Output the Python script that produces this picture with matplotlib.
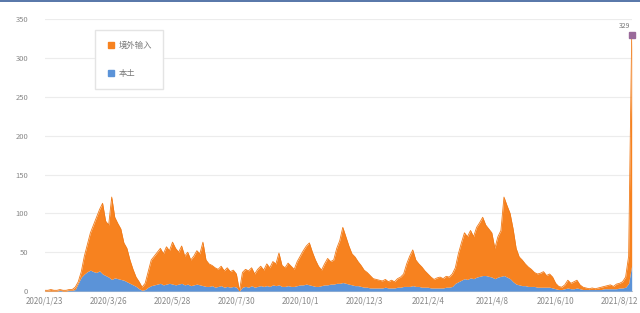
import matplotlib.pyplot as plt
import numpy as np
from matplotlib.lines import Line2D

plt.rcParams['font.family'] = ['Noto Sans CJK SC', 'DejaVu Sans']

# total daily cases (stacked top) and local cases (bottom layer)
total = [1, 1, 2, 1, 1, 2, 1, 1, 2, 2,
         5, 12, 25, 45, 60, 75, 85, 95, 105, 113,
         90, 85, 121, 95, 87, 80, 62, 55, 40, 28,
         18, 12, 5, 10, 25, 40, 45, 50, 55, 48,
         57, 52, 63, 55, 50, 58, 45, 50, 40, 45,
         52, 48, 63, 40, 35, 33, 30, 28, 32, 26,
         30, 25, 27, 22, 0, 24, 28, 26, 30, 22,
         28, 32, 27, 35, 30, 38, 35, 49, 33, 30,
         36, 32, 28, 38, 45, 52, 58, 62, 50, 40,
         32, 27, 35, 42, 38, 40, 55, 65, 82, 70,
         58, 48, 44, 38, 33, 27, 24, 20, 16, 15,
         14, 13, 15, 12, 14, 12, 16, 18, 22, 35,
         45, 53, 40, 35, 31, 26, 22, 18, 15, 17,
         18, 16, 19, 18, 22, 30, 48, 62, 75, 70,
         78, 70, 82, 88, 95, 85, 80, 75, 55, 70,
         78, 121, 110, 100, 80, 55, 44, 40, 35, 31,
         28, 24, 22, 23, 25, 20, 22, 18, 10, 6,
         5, 8, 14, 10, 12, 14, 8, 5, 4, 3,
         4, 3, 4, 5, 6, 7, 8, 6, 9, 10,
         12, 18, 45, 329]

local = [0, 0, 0, 0, 0, 1, 0, 0, 1, 1,
         2, 10, 18, 22, 25, 27, 25, 24, 26, 22,
         20, 18, 15, 17, 16, 15, 14, 12, 10, 8,
         6, 3, 1, 2, 5, 7, 8, 9, 10, 8,
         9, 10, 9, 8, 9, 10, 8, 9, 7, 8,
         9, 8, 7, 6, 6, 7, 5, 6, 7, 5,
         6, 5, 6, 5, 0, 5, 6, 5, 7, 5,
         6, 7, 6, 7, 6, 8, 7, 8, 6, 6,
         7, 6, 6, 7, 8, 8, 9, 8, 7, 6,
         6, 7, 8, 8, 9, 9, 10, 10, 11, 10,
         9, 8, 7, 7, 6, 5, 5, 4, 4, 4,
         4, 4, 5, 4, 4, 4, 5, 5, 6, 6,
         6, 7, 6, 6, 5, 5, 5, 4, 4, 4,
         4, 4, 5, 5, 6, 10, 12, 14, 16, 15,
         17, 16, 18, 19, 20, 20, 19, 18, 16, 18,
         19, 20, 18, 16, 12, 9, 8, 7, 7, 6,
         6, 6, 5, 5, 5, 5, 5, 4, 3, 2,
         2, 3, 4, 3, 3, 4, 3, 2, 2, 2,
         2, 2, 2, 2, 3, 3, 3, 3, 3, 4,
         4, 5, 10, 33]

date_labels = ['2020/1/23', '2020/3/26', '2020/5/28', '2020/7/30', '2020/10/1',
               '2020/12/3', '2021/2/4', '2021/4/8', '2021/6/10', '2021/8/12']
label_step = 21

series_names = ['境外输入', '本土']

total = np.array(total, dtype=float)
local = np.array(local, dtype=float)
x = np.arange(len(total))

fig = plt.figure(figsize=(6.4, 3.13), dpi=100)
ax = fig.add_axes([0.07, 0.07, 0.917, 0.869])

c_orange = '#f7821f'
c_blue = '#5b93d8'

ax.fill_between(x, 0, local, color=c_blue, lw=0, zorder=3)
ax.fill_between(x, local, total, color=c_orange, lw=0, zorder=3)
ax.plot(x, total, color='#f07a18', lw=0.6, zorder=4)

# highlighted last point
ax.plot(x[-1], total[-1], 's', color='#9a6a9a', ms=4, zorder=5, clip_on=False)
ax.text(x[-1] - 2.5, total[-1] + 7, '%d' % total[-1], fontsize=5, color='#777777',
        ha='center', va='bottom')

ax.set_xlim(0, len(total) - 1)
ax.set_ylim(0, 350)
ax.set_yticks(np.arange(0, 351, 50))
ax.tick_params(axis='y', length=0, labelsize=5.5, labelcolor='#888888', pad=12)
ax.set_xticks(x[::label_step])
ax.set_xticklabels(date_labels)
ax.tick_params(axis='x', length=0, labelsize=5.8, labelcolor='#888888', pad=4)

ax.grid(axis='y', color='#ececec', lw=0.8, zorder=0)
for s in ['top', 'right', 'left']:
    ax.spines[s].set_visible(False)
ax.spines['bottom'].set_color('#cccccc')
ax.spines['bottom'].set_linewidth(0.8)

handles = [Line2D([], [], ls='', marker='s', ms=4.5, color=c_orange),
           Line2D([], [], ls='', marker='s', ms=4.5, color=c_blue)]
leg = ax.legend(handles, series_names, loc='upper left',
                bbox_to_anchor=(91 / 640, 1 - 26 / 313), bbox_transform=fig.transFigure,
                fontsize=6, labelspacing=2.3, handletextpad=0.2, borderpad=1.3,
                handlelength=1.3, fancybox=False, edgecolor='#e4e4e4', framealpha=1)
for t in leg.get_texts():
    t.set_color('#777777')

# thin window border line at the top
fig.add_artist(Line2D([0, 1], [0.997, 0.997], color='#3a5f9a', lw=1.2,
                      transform=fig.transFigure))

plt.savefig('out.png', dpi=100)
